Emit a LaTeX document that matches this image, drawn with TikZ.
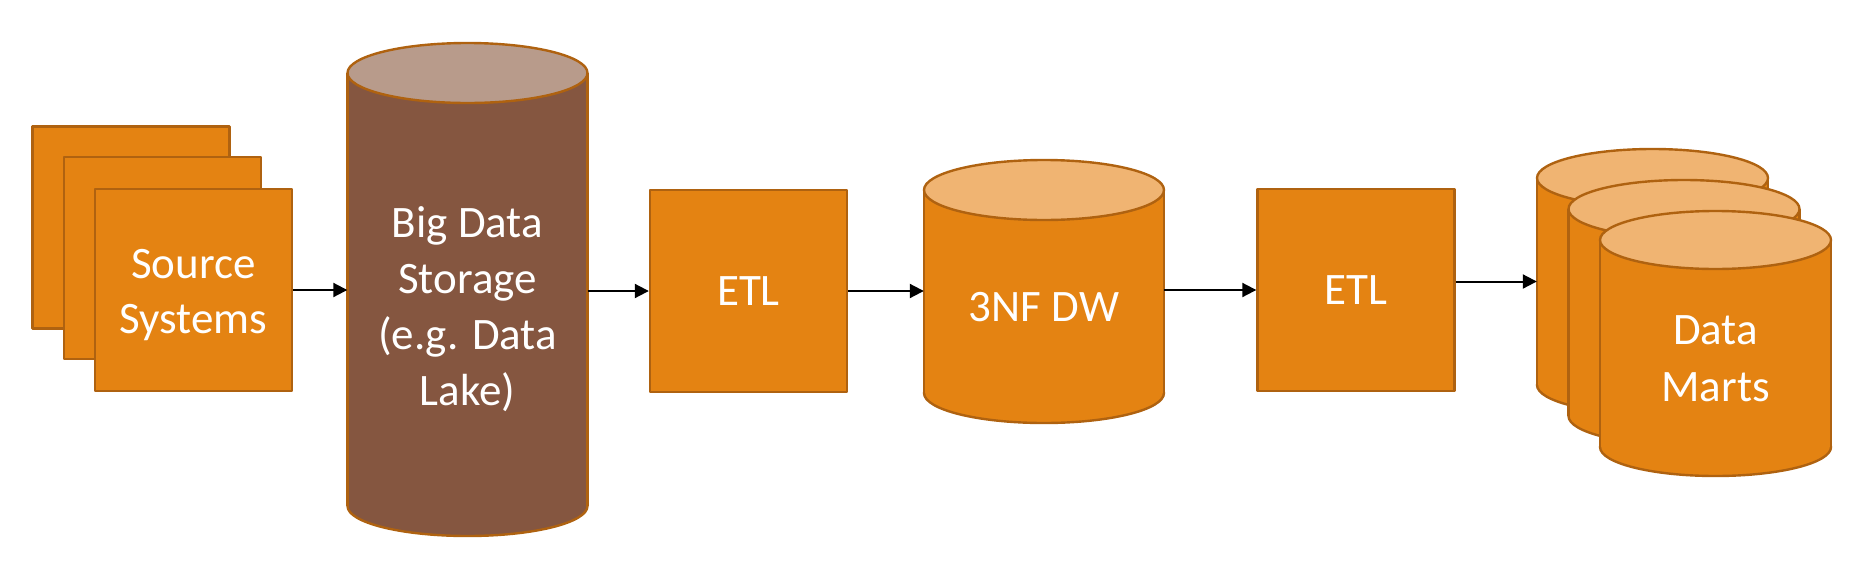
\documentclass[tikz,border=0pt]{standalone}
\usepackage{fontspec}
\setmainfont{Carlito}
\usetikzlibrary{arrows.meta}
\definecolor{orfill}{HTML}{E48312}
\definecolor{oredge}{HTML}{AF6210}
\definecolor{ortop}{HTML}{F0B472}
\definecolor{brfill}{HTML}{855640}
\definecolor{brtop}{HTML}{B89B8B}
% #1 name, #2 cx, #3 top centre y, #4 bottom centre y, #5 rx, #6 ry, #7 body fill, #8 top fill
\newcommand\drawcyl[8]{%
  \filldraw[fill=#7, draw=oredge, shapeline] (#2,#4) ellipse [x radius=#5, y radius=#6];
  \fill[#7] (#2-#5,#3) rectangle (#2+#5,#4);
  \draw[shapeline, draw=oredge] (#2-#5,#3) -- (#2-#5,#4) (#2+#5,#3) -- (#2+#5,#4);
  \filldraw[fill=#8, draw=oredge, shapeline] (#2,#3) ellipse [x radius=#5, y radius=#6];
  \node[inner sep=0pt, minimum width=2*#5, minimum height=#4-#3] (#1) at (#2,{(#3+#4)/2}) {};
}
\begin{document}
\begin{tikzpicture}[x=1pt, y=-1pt,
  shapeline/.style={line width=2.4pt, line join=round},
  box/.style={draw=oredge, fill=orfill, shapeline, minimum width=197pt, minimum height=202pt, inner sep=0pt},
  lbl/.style={text=white, align=center, inner sep=0pt, font=\fontsize{45}{55}\selectfont},
  arr/.style={-{Triangle[length=14pt,width=14pt]}, line width=2pt, black}]
\useasboundingbox (0,0) rectangle (1854,576);
% source systems stack
\node[box] (src3) at (131,227.5) {};
\node[box] (src2) at (162.5,258) {};
\node[box] (src) at (193.5,290) {};
\node[lbl] (srct) at (193.5,295) {Source\\Systems};
% big data storage
\drawcyl{bds}{467.5}{73}{506}{120}{30}{brfill}{brtop}
\node[lbl, font=\fontsize{45}{56}\selectfont] (bdst) at (467.5,309.5) {Big Data\\Storage\\(e.g. Data\\Lake)};
% ETL 1
\node[box] (etla) at (748.5,291) {};
\node[lbl] (etlat) at (748.5,291) {ETL};
% 3NF DW
\drawcyl{dw}{1044}{190}{393}{120}{30}{orfill}{ortop}
\node[lbl] (dwt) at (1044,307) {3NF DW};
% ETL 2
\node[box] (etlb) at (1356,290) {};
\node[lbl] (etlbt) at (1356,290) {ETL};
% data marts
\drawcyl{dm1}{1652.5}{178}{385}{115.5}{29}{orfill}{ortop}
\drawcyl{dm2}{1684}{209}{416}{115.5}{29}{orfill}{ortop}
\drawcyl{dm3}{1715.5}{240}{447}{115.5}{29}{orfill}{ortop}
\node[lbl, font=\fontsize{45}{57}\selectfont] (dmt) at (1715.5,358.5) {Data\\Marts};
% connectors
\draw[arr] (src.east) -- (src.east -| bds.west);
\draw[arr] (bds.east |- etla.west) -- (etla.west);
\draw[arr] (etla.east) -- (etla.east -| dw.west);
\draw[arr] (dw.east |- etlb.west) -- (etlb.west);
\draw[arr] (etlb.east |- dm1.west) -- (dm1.west);
\end{tikzpicture}
\end{document}
